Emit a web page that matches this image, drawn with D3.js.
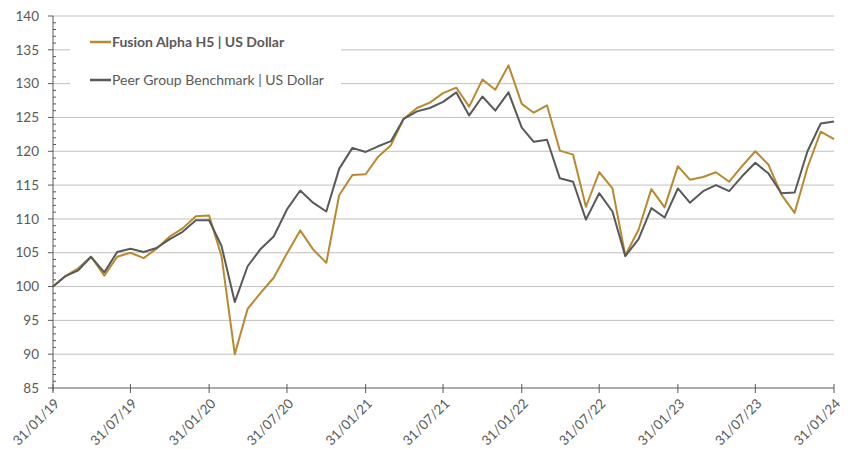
<!DOCTYPE html>
<html>
<head>
<meta charset="utf-8">
<script src="https://cdn.jsdelivr.net/npm/d3@7"></script>
<style>
  body { margin: 0; background: #fff; }
  svg text { font-family: Lato, "Liberation Sans", sans-serif; fill: #595959; }
</style>
</head>
<body>
<svg id="chart" width="848" height="450"></svg>
<script>
// Month-end observations, Jan 2019 .. Jan 2024
const months = d3.range(61).map(i => new Date(2019, i + 1, 0));

const fundValues = [
  100, 101.5, 102.7, 104.4, 101.6, 104.4, 105.0, 104.2, 105.6, 107.4,
  108.6, 110.4, 110.5, 104.5, 90.0, 96.7, 99.1, 101.3, 104.9, 108.3,
  105.5, 103.5, 113.5, 116.5, 116.6, 119.1, 120.9, 124.8, 126.4, 127.2,
  128.6, 129.4, 126.6, 130.6, 129.1, 132.7, 127.0, 125.7, 126.8, 120.1,
  119.5, 111.8, 116.9, 114.5, 104.6, 108.4, 114.4, 111.7, 117.8, 115.8,
  116.2, 116.9, 115.5, 117.8, 120.0, 118.0, 113.6, 110.9, 117.6, 122.9,
  121.8
];

const peerValues = [
  100, 101.5, 102.4, 104.4, 102.1, 105.1, 105.6, 105.1, 105.7, 107.0,
  108.1, 109.8, 109.8, 106.0, 97.7, 103.0, 105.6, 107.4, 111.4, 114.2,
  112.4, 111.1, 117.4, 120.5, 119.9, 120.7, 121.5, 124.8, 125.9, 126.4,
  127.3, 128.7, 125.3, 128.1, 126.0, 128.7, 123.5, 121.4, 121.7, 116.0,
  115.5, 109.9, 113.8, 111.1, 104.5, 107.0, 111.6, 110.2, 114.5, 112.4,
  114.1, 115.0, 114.1, 116.3, 118.3, 116.7, 113.8, 113.9, 120.0, 124.1,
  124.4
];

const seriesNames = ["Fusion Alpha H5 | US Dollar", "Peer Group Benchmark | US Dollar"];
const seriesColors = ["#B8892E", "#595959"];

const xTickLabels = ["31/01/19", "31/07/19", "31/01/20", "31/07/20", "31/01/21", "31/07/21",
                     "31/01/22", "31/07/22", "31/01/23", "31/07/23", "31/01/24"];
const yTicks = [85, 90, 95, 100, 105, 110, 115, 120, 125, 130, 135, 140];

const parseTick = d3.timeParse("%d/%m/%y");
const tickDates = xTickLabels.map(parseTick);

const svg = d3.select("#chart");
const plot = { left: 53, right: 834, top: 16, bottom: 388 };

const x = d3.scaleTime()
  .domain([months[0], months[months.length - 1]])
  .range([plot.left, plot.right]);
const y = d3.scaleLinear().domain([85, 140]).range([plot.bottom, plot.top]);

// horizontal gridlines
svg.append("g")
  .selectAll("line")
  .data(yTicks.filter(v => v > 85))
  .enter()
  .append("line")
  .attr("x1", plot.left)
  .attr("x2", plot.right)
  .attr("y1", d => y(d))
  .attr("y2", d => y(d))
  .attr("stroke", "#C0C0C0")
  .attr("stroke-width", 1);

// y axis with minor ticks
const yAxis = svg.append("g").attr("transform", `translate(${plot.left},0)`);
yAxis.append("line")
  .attr("x1", 0).attr("x2", 0)
  .attr("y1", y(140)).attr("y2", y(85) + 3)
  .attr("stroke", "#595959");
yAxis.selectAll(".minor")
  .data(d3.range(85, 141).filter(v => v % 5 !== 0))
  .enter()
  .append("line")
  .attr("x1", 0).attr("x2", 3)
  .attr("y1", d => y(d)).attr("y2", d => y(d))
  .attr("stroke", "#595959");
yAxis.selectAll(".major")
  .data(yTicks)
  .enter()
  .append("line")
  .attr("x1", -5).attr("x2", 0)
  .attr("y1", d => y(d)).attr("y2", d => y(d))
  .attr("stroke", "#595959");
yAxis.selectAll("text")
  .data(yTicks)
  .enter()
  .append("text")
  .attr("x", -14)
  .attr("y", d => y(d))
  .attr("dy", "0.35em")
  .attr("text-anchor", "end")
  .style("font-size", "13.5px")
  .text(d => d);

// x axis
const xAxis = svg.append("g").attr("transform", `translate(0,${plot.bottom})`);
xAxis.append("line")
  .attr("x1", plot.left).attr("x2", plot.right)
  .attr("stroke", "#595959");
xAxis.selectAll(".tick")
  .data(tickDates)
  .enter()
  .append("line")
  .attr("x1", d => x(d)).attr("x2", d => x(d))
  .attr("y1", -4).attr("y2", 5)
  .attr("stroke", "#595959");
xAxis.selectAll("text")
  .data(tickDates)
  .enter()
  .append("text")
  .attr("transform", d => `translate(${x(d) + 4},${13}) rotate(-45)`)
  .attr("text-anchor", "end")
  .attr("dy", "0.35em")
  .style("font-size", "13.5px")
  .text((d, i) => xTickLabels[i]);

// lines
const line = d3.line()
  .x((d, i) => x(months[i]))
  .y(d => y(d));

[fundValues, peerValues].forEach((vals, k) => {
  svg.append("path")
    .datum(vals)
    .attr("fill", "none")
    .attr("stroke", seriesColors[k])
    .attr("stroke-width", 2)
    .attr("stroke-linejoin", "round")
    .attr("d", line);
});

// legend
const legend = svg.append("g");
legend.append("rect")
  .attr("x", 70).attr("y", 26)
  .attr("width", 271).attr("height", 72)
  .attr("fill", "#fff");
const legendRows = [42, 80];
seriesNames.forEach((name, k) => {
  legend.append("line")
    .attr("x1", 90).attr("x2", 111)
    .attr("y1", legendRows[k]).attr("y2", legendRows[k])
    .attr("stroke", seriesColors[k])
    .attr("stroke-width", 2.5);
  legend.append("text")
    .attr("x", 112)
    .attr("y", legendRows[k])
    .attr("dy", "0.35em")
    .style("font-size", "14px")
    .style("font-weight", k === 0 ? "bold" : "normal")
    .text(name);
});
</script>
</body>
</html>
